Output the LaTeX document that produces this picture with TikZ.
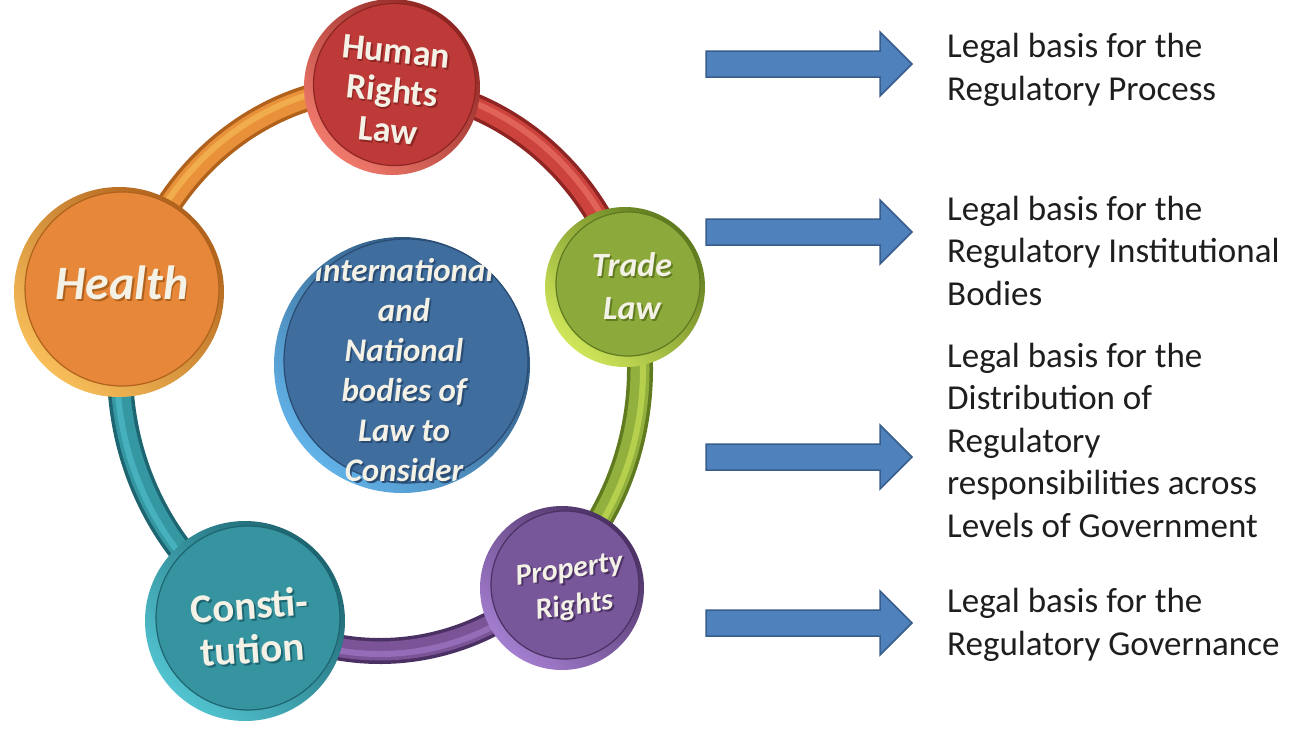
\documentclass[tikz,border=0pt]{standalone}
\usepackage{fontspec}
\setmainfont{Carlito}
\usetikzlibrary{calc}
% ring / coin colours
\definecolor{orD}{HTML}{B0621C}\definecolor{orM}{HTML}{E8913A}\definecolor{orL}{HTML}{F7BE5A}\definecolor{orF}{HTML}{E6873A}
\definecolor{reD}{HTML}{8E2523}\definecolor{reM}{HTML}{CC423C}\definecolor{reL}{HTML}{F07A6C}\definecolor{reF}{HTML}{BD3A38}
\definecolor{grD}{HTML}{5F7A1F}\definecolor{grM}{HTML}{92B03E}\definecolor{grL}{HTML}{CFE65A}\definecolor{grF}{HTML}{8CAA3C}
\definecolor{puD}{HTML}{4B3163}\definecolor{puM}{HTML}{7A5496}\definecolor{puL}{HTML}{A47ED0}\definecolor{puF}{HTML}{77569A}
\definecolor{teD}{HTML}{1D6570}\definecolor{teM}{HTML}{3597A2}\definecolor{teL}{HTML}{52C3D0}\definecolor{teF}{HTML}{3594A0}
\definecolor{blD}{HTML}{2A4C72}\definecolor{blL}{HTML}{62B2E8}\definecolor{blF}{HTML}{3E6D9E}
\definecolor{arrF}{HTML}{4F81BD}\definecolor{arrD}{HTML}{385D8A}
\definecolor{cream}{HTML}{F4F1E6}
\definecolor{txt}{HTML}{1E1E1E}
% one line of coin text with a soft drop shadow
\newcommand\txsh[2]{\makebox[0pt][l]{\kern1.8pt\raisebox{-1.8pt}{\textcolor{#1}{#2}}}#2}
\tikzset{
  ctext/.style={text=cream, align=center, inner sep=0pt},
  rtext/.style={text=txt, align=left, inner sep=0pt, font=\fontsize{35}{42.5}\selectfont},
  rim/.style 2 args={top color=#1, bottom color=#2, shading angle=-45},
  face/.style 2 args={fill=#1, draw=#2, line width=1.2pt},
  bluearrow/.pic={\draw[fill=arrF, draw=arrD, line width=1.5pt]
     (0,13) -- (174,13) -- (174,32) -- (206,0) -- (174,-32) -- (174,-13) -- (0,-13) -- cycle;}
}
\begin{document}
\begin{tikzpicture}[x=1pt,y=1pt]
\useasboundingbox (0,0) rectangle (1304,-732);
\fill[white] (0,0) rectangle (1304,-732);
% ring
\coordinate (rc) at (380,-369);
\foreach \a/\b/\cd/\cm/\cl in {165/87/orD/orM/orL, 87/17/reD/reM/reL, 17/-48/grD/grM/grL, -48/-120/puD/puM/puL, -120/-195/teD/teM/teL}{
  \draw[line width=26pt, \cd] (rc) ++(\a:260pt and 282pt) arc[start angle=\a, end angle=\b, x radius=260pt, y radius=282pt];
  \draw[line width=19pt, \cm] (rc) ++(\a:260pt and 282pt) arc[start angle=\a, end angle=\b, x radius=260pt, y radius=282pt];
  \draw[line width=6pt, \cl, opacity=0.6] (rc) ++(\a:263pt and 285pt) arc[start angle=\a, end angle=\b, x radius=263pt, y radius=285pt];
}
% coins
% Human Rights Law
\shade[rim={reD}{reL}] (392,-87) circle (88);
\fill[face={reF}{reD}] (394.5,-84.5) circle (81);
% Trade Law
\shade[rim={grD}{grL}] (625,-287) circle (80);
\fill[face={grF}{grD}] (628,-284) circle (72);
% Property Rights
\shade[rim={puD}{puL}] (562,-588) circle (82);
\fill[face={puF}{puD}] (565,-585) circle (74);
% Constitution
\shade[rim={teD}{teL}] (245,-621) circle (100);
\fill[face={teF}{teD}] (248,-618) circle (92);
% Health
\shade[rim={orD}{orL}] (119,-292) circle (105);
\fill[face={orF}{orD}] (122,-289) circle (97);
% centre
\shade[rim={blD}{blL}] (402,-365) circle (128);
\fill[face={blF}{blD}] (406,-361) circle (122);
% coin texts
\node[ctext, rotate=-6, font=\bfseries\fontsize{36}{40}\selectfont] (hr) at (392,-92)
  {\txsh{reD}{Human}\\\txsh{reD}{Rights}\\\txsh{reD}{Law}};
\node[ctext, font=\bfseries\itshape\fontsize{34}{43}\selectfont] (tl) at (632,-287)
  {\txsh{grD}{Trade}\\\txsh{grD}{Law}};
\node[ctext, rotate=8, font=\bfseries\itshape\fontsize{30}{37}\selectfont] (pr) at (572,-590)
  {\txsh{puD}{Property}\\\txsh{puD}{Rights}};
\node[ctext, rotate=4, font=\bfseries\fontsize{41}{44}\selectfont] (co) at (251,-628)
  {\txsh{teD}{Consti-}\\\txsh{teD}{tution}};
\node[ctext, font=\bfseries\itshape\fontsize{48}{52}\selectfont] (he) at (122,-284)
  {\txsh{orD}{Health}};
\begin{scope}
\clip (403,-364) circle (127);
\node[ctext, font=\bfseries\itshape\fontsize{33}{40}\selectfont] (ct) at (404,-371)
  {\txsh{blD}{International}\\\txsh{blD}{and}\\\txsh{blD}{National}\\\txsh{blD}{bodies of}\\\txsh{blD}{Law to}\\\txsh{blD}{Consider}};
\end{scope}
% arrows
\pic (a1) at (706,-64) {bluearrow};
\pic (a2) at (706,-232) {bluearrow};
\pic (a3) at (706,-457) {bluearrow};
\pic (a4) at (706,-623) {bluearrow};
% right texts (base anchor = baseline of the last line)
\node[rtext, anchor=base west] (t1) at (947,-100) {Legal basis for the\\Regulatory Process};
\node[rtext, anchor=base west] (t2) at (947,-305) {Legal basis for the\\Regulatory Institutional\\Bodies};
\node[rtext, anchor=base west] (t3) at (947,-537) {Legal basis for the\\Distribution of\\Regulatory\\responsibilities across\\Levels of Government};
\node[rtext, anchor=base west] (t4) at (947,-655) {Legal basis for the\\Regulatory Governance};
\end{tikzpicture}
\end{document}
